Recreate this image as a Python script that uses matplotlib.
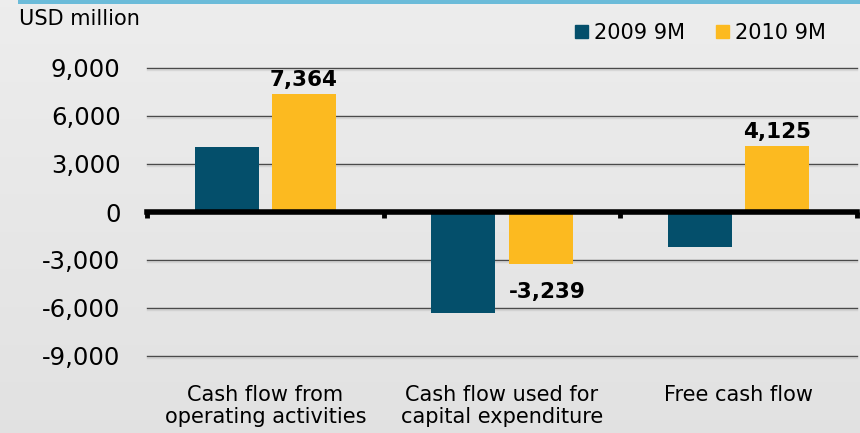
"""Cash flow bars, 2009 9M vs 2010 9M."""

import matplotlib.pyplot as plt
import matplotlib.patheffects as pe
import numpy as np
from matplotlib.patches import Patch, Rectangle

categories = ["Cash flow from\noperating activities",
              "Cash flow used for\ncapital expenditure",
              "Free cash flow"]
series_names = ["2009 9M", "2010 9M"]
values_2009 = [4060, -6310, -2190]
values_2010 = [7364, -3239, 4125]
labels_2010 = ["7,364", "-3,239", "4,125"]
y_ticks = [-9000, -6000, -3000, 0, 3000, 6000, 9000]

DARK = "#044f6b"
YELLOW = "#fcba20"

plt.rcParams["font.family"] = ["DejaVu Sans"]

fig = plt.figure(figsize=(8.6, 4.33), dpi=100)

# Background with a slight vertical gradient.
bg = fig.add_axes([0, 0, 1, 1], zorder=-10)
grad = np.linspace(0.93, 0.885, 256).reshape(-1, 1, 1).repeat(3, axis=2)
bg.imshow(grad, aspect="auto", extent=[0, 1, 0, 1])
bg.set_xlim(0, 1)
bg.set_ylim(0, 1)
bg.axis("off")
bg.add_patch(Rectangle((18 / 860, 1 - 4 / 433), 1, 4 / 433,
                       color="#6bbbd9", lw=0))

ax = fig.add_axes([147 / 860, 77 / 433, 710 / 860, 288 / 433])
ax.set_facecolor("none")

x = np.arange(len(categories))
width = 0.27
offset = 0.163
ax.bar(x - offset, values_2009, width, color=DARK, zorder=3)
ax.bar(x + offset, values_2010, width, color=YELLOW, zorder=3)

ax.set_xlim(-0.5, len(categories) - 0.5)
ax.set_ylim(-9000, 9000)

# Gridlines with a soft shadow.
for t in y_ticks:
    if t == 0:
        continue
    ax.axhline(t, color="#4a4a4a", lw=1.0, zorder=1, clip_on=False,
               path_effects=[pe.SimpleLineShadow(offset=(0, -1.5),
                                                 shadow_color="#aaaaaa",
                                                 alpha=0.3),
                             pe.Normal()])

# Zero axis with category separators.
for s in ["top", "right", "left"]:
    ax.spines[s].set_visible(False)
ax.spines["bottom"].set_position(("data", 0))
ax.spines["bottom"].set_linewidth(4)
ax.spines["bottom"].set_zorder(4)
ax.set_xticks(np.arange(len(categories) + 1) - 0.5)
ax.set_xticklabels([])
ax.tick_params(axis="x", direction="out", length=4, width=3.5, color="black")

ax.set_yticks(y_ticks)
ax.set_yticklabels([f"{v:,}" for v in y_ticks], fontsize=17.5)
ax.tick_params(axis="y", length=0, pad=19)

# Category labels below the plot.
for i, cat in enumerate(categories):
    ax.text(x[i], -0.1, cat, transform=ax.get_xaxis_transform(),
            ha="center", va="top", fontsize=15, linespacing=1.15)

# Data labels.
for i, v in enumerate(values_2010):
    if v >= 0:
        ax.annotate(labels_2010[i], (x[i] + offset, v), xytext=(0, 3),
                    textcoords="offset points", ha="center", va="bottom",
                    fontsize=15.5, fontweight="bold", zorder=5)
    else:
        ax.annotate(labels_2010[i], (x[i] + offset + 0.027, v),
                    xytext=(0, -13), textcoords="offset points",
                    ha="center", va="top",
                    fontsize=15.5, fontweight="bold", zorder=5)

fig.text(19 / 860, 1 - 25 / 433, "USD million", fontsize=15, va="baseline")

handles = [Patch(color=DARK), Patch(color=YELLOW)]
fig.legend(handles, series_names, loc="center right",
           bbox_to_anchor=(826 / 860, 1 - 33 / 433), ncol=2, frameon=False,
           fontsize=15, handlelength=0.6, handleheight=0.6,
           handletextpad=0.3, columnspacing=1.5, borderpad=0,
           borderaxespad=0)

fig.savefig("out.png", dpi=100)
